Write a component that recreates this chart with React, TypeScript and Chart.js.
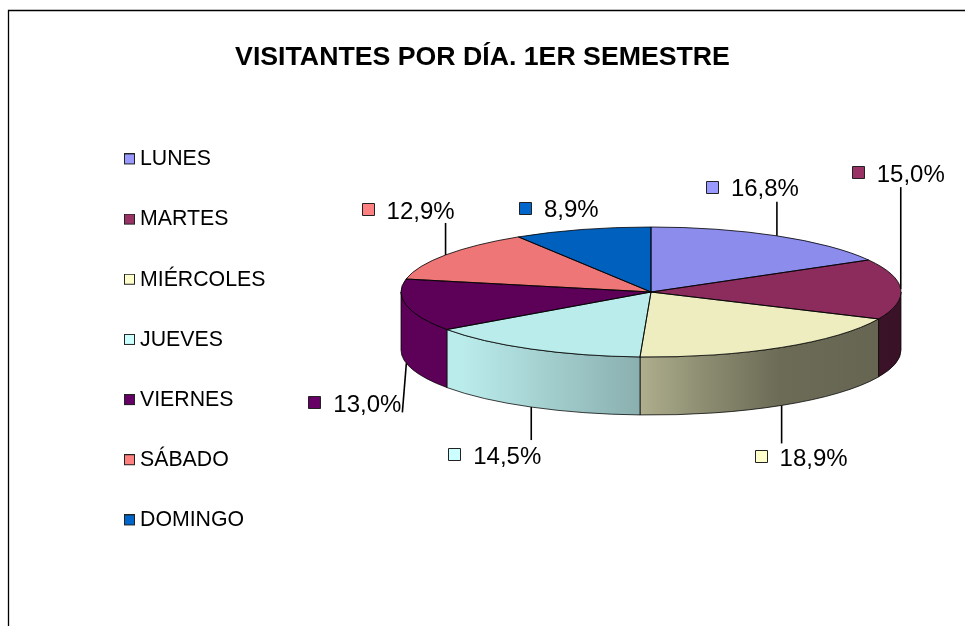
import React, { useEffect, useRef } from "react";
import { Chart, registerables } from "chart.js";

Chart.register(...registerables);

const CATEGORIES = ["LUNES", "MARTES", "MIÉRCOLES", "JUEVES", "VIERNES", "SÁBADO", "DOMINGO"];
const VALUES = [16.8, 15.0, 18.9, 14.5, 13.0, 12.9, 8.9];
const TITLE = "VISITANTES POR DÍA. 1ER SEMESTRE";

const TOP_COLORS = ["#8C8CEC", "#8B2C5C", "#EDEDC0", "#BBECEC", "#5C0058", "#EE7676", "#0060BE"];
const KEY_COLORS = ["#9999FF", "#993366", "#FFFFCC", "#CCFFFF", "#660066", "#FF8080", "#0066CC"];

// label placement relative to the slice's rim point: text left, text centre line
const LABEL_DX = [-46, -24, -2, -58, -73, -59, -38];
const LABEL_DY = [-46, -114, 54, 50, 42, -43, -19];
// leader end relative to the rim point (null: no leader)
const LEADER_DX: (number | null)[] = [0, 0, 0, 0, -4, 0, null];
const LEADER_DY = [-34, -102, 38, 33, 49, -32, 0];

// wall lighting along the pie's width: [fraction of width, brightness]
const LIGHTING: [number, number][] = [
  [0, 1],
  [0.12, 1],
  [0.478, 0.74],
  [0.6, 0.6],
  [0.76, 0.45],
  [1, 0.42],
];

const CENTER_X = 651;
const CENTER_Y = 292;
const RADIUS_X = 250;
const SQUASH = 0.26;
const DEPTH = 58;
const LEGEND_FONT = 21.3;
const LABEL_FONT = 24;
const FONT = "'Liberation Sans', Arial, sans-serif";

function shade(hex: string, f: number) {
  const n = parseInt(hex.slice(1), 16);
  const c = [(n >> 16) & 255, (n >> 8) & 255, n & 255].map((v) => Math.round(v * f));
  return `rgb(${c[0]},${c[1]},${c[2]})`;
}

// legend key: an image whose swatch sits off-centre, so that the key and its text keep the tight gap
function keyImage(color: string) {
  const c = document.createElement("canvas");
  c.width = 14;
  c.height = 12;
  const x = c.getContext("2d")!;
  x.fillStyle = color;
  x.fillRect(2, 0, 11, 11);
  x.strokeStyle = "#222";
  x.lineWidth = 1;
  x.strokeRect(2.5, 0.5, 10, 10);
  return c;
}

const pie3d = {
  id: "pie3d",
  beforeDraw(chart: any) {
    const { ctx, width, height } = chart;
    ctx.save();
    ctx.strokeStyle = "#000";
    ctx.lineWidth = 1.3;
    ctx.beginPath();
    ctx.moveTo(8.5, height);
    ctx.lineTo(8.5, 10.5);
    ctx.lineTo(width, 10.5);
    ctx.stroke();
    ctx.restore();
  },
  afterLayout(chart: any) {
    const a = {
      left: CENTER_X - RADIUS_X,
      right: CENTER_X + RADIUS_X,
      top: CENTER_Y - RADIUS_X,
      bottom: CENTER_Y + RADIUS_X,
      width: RADIUS_X * 2,
      height: RADIUS_X * 2,
    };
    Object.assign(chart.chartArea, a);
    const lg = chart.legend;
    const pad = lg.options.labels.padding;
    lg.left = 128.65 - pad;
    lg.top = 159.4 - LEGEND_FONT / 2 - pad;
    lg.bottom = chart.height;
    lg.right = lg.left + lg.width;
  },
  beforeDatasetsDraw(chart: any) {
    const { ctx } = chart;
    const arcs = chart.getDatasetMeta(0).data;
    const ry = RADIUS_X * SQUASH;
    ctx.save();
    arcs.forEach((arc: any, i: number) => {
      const a0 = Math.max(arc.startAngle, 0);
      const a1 = Math.min(arc.endAngle, Math.PI);
      if (a1 <= a0) return;
      const g = ctx.createLinearGradient(CENTER_X - RADIUS_X, 0, CENTER_X + RADIUS_X, 0);
      LIGHTING.forEach(([p, f]) => g.addColorStop(p, shade(TOP_COLORS[i], f)));
      ctx.beginPath();
      ctx.ellipse(CENTER_X, CENTER_Y, RADIUS_X, ry, 0, a0, a1);
      ctx.ellipse(CENTER_X, CENTER_Y + DEPTH, RADIUS_X, ry, 0, a1, a0, true);
      ctx.closePath();
      ctx.fillStyle = g;
      ctx.fill();
      ctx.strokeStyle = "rgba(0,0,0,0.75)";
      ctx.lineWidth = 1;
      ctx.stroke();
    });
    ctx.restore();
    ctx.save();
    ctx.translate(CENTER_X, CENTER_Y);
    ctx.scale(1, SQUASH);
    ctx.translate(-CENTER_X, -CENTER_Y);
  },
  afterDatasetsDraw(chart: any) {
    const { ctx } = chart;
    ctx.restore();
    const arcs = chart.getDatasetMeta(0).data;
    const ry = RADIUS_X * SQUASH;
    ctx.save();
    ctx.strokeStyle = "rgba(0,0,0,0.8)";
    ctx.lineWidth = 1;
    arcs.forEach((arc: any) => {
      ctx.beginPath();
      ctx.moveTo(CENTER_X, CENTER_Y);
      ctx.ellipse(CENTER_X, CENTER_Y, RADIUS_X, ry, 0, arc.startAngle, arc.endAngle);
      ctx.closePath();
      ctx.stroke();
    });
    arcs.forEach((arc: any, i: number) => {
      const mid = (arc.startAngle + arc.endAngle) / 2;
      const front = Math.sin(mid) > 0;
      const x = CENTER_X + RADIUS_X * Math.cos(mid);
      const y = CENTER_Y + ry * Math.sin(mid) + (front ? DEPTH : 0);
      const ldx = LEADER_DX[i];
      if (ldx !== null) {
        ctx.strokeStyle = "#000";
        ctx.lineWidth = 1.6;
        ctx.beginPath();
        ctx.moveTo(x, y);
        ctx.lineTo(x + ldx, y + LEADER_DY[i]);
        ctx.stroke();
      }
      const tx = x + LABEL_DX[i];
      const ty = y + LABEL_DY[i];
      ctx.fillStyle = KEY_COLORS[i];
      ctx.strokeStyle = "#222";
      ctx.lineWidth = 1;
      ctx.beginPath();
      ctx.rect(Math.round(tx - 25) + 0.5, Math.round(ty - 9) + 0.5, 12, 12);
      ctx.fill();
      ctx.stroke();
      ctx.fillStyle = "#000";
      ctx.font = `${LABEL_FONT}px ${FONT}`;
      ctx.textAlign = "left";
      ctx.textBaseline = "middle";
      ctx.fillText(VALUES[i].toFixed(1).replace(".", ",") + "%", tx, ty);
    });
    ctx.restore();
  },
};

export default function App() {
  const ref = useRef<HTMLCanvasElement>(null);
  useEffect(() => {
    const chart = new Chart(ref.current!, {
      type: "pie",
      data: {
        labels: CATEGORIES,
        datasets: [{ data: VALUES, backgroundColor: TOP_COLORS, borderWidth: 0 }],
      },
      options: {
        responsive: false,
        animation: false,
        devicePixelRatio: 1,
        plugins: {
          title: {
            display: true,
            text: TITLE,
            color: "#000",
            font: { family: FONT, size: 26.7, weight: "bold" },
            padding: { top: 41.5, bottom: 10 },
          },
          legend: {
            display: true,
            position: "left",
            align: "start",
            labels: {
              color: "#000",
              font: { family: FONT, size: LEGEND_FONT, lineHeight: 1 },
              usePointStyle: true,
              boxWidth: 0.7,
              boxHeight: 11,
              padding: 38.87,
              generateLabels: () =>
                CATEGORIES.map((text, i) => ({
                  text,
                  fillStyle: KEY_COLORS[i],
                  strokeStyle: "#222",
                  lineWidth: 1,
                  pointStyle: keyImage(KEY_COLORS[i]),
                  hidden: false,
                  index: i,
                  rotation: 0,
                })),
            },
          },
          tooltip: { enabled: false },
        },
      },
      plugins: [pie3d],
    } as any);
    return () => chart.destroy();
  }, []);
  return (
    <canvas
      ref={ref}
      width={965}
      height={626}
      style={{ position: "absolute", left: 0, top: 0, display: "block", width: 965, height: 626 }}
    />
  );
}
